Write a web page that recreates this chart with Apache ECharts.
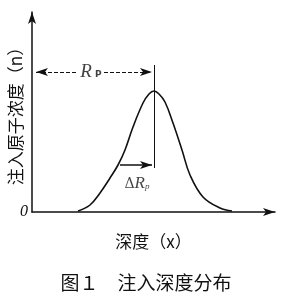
<!DOCTYPE html>
<html><head><meta charset="utf-8">
<script src="https://cdn.jsdelivr.net/npm/echarts@6/dist/echarts.min.js"></script>
<style>html,body{margin:0;padding:0;background:#fff}#c{width:292px;height:300px}</style>
</head><body><div id="c"></div>
<script>
// depth (arbitrary units) and concentration (arbitrary units)
const depth = [46, 58, 68, 78, 86, 93, 101, 111, 117, 122, 127, 133, 141, 150, 158, 171, 188, 200];
const conc  = [1, 7, 19, 34, 47, 62, 85, 109, 118, 121, 118, 110, 89, 62, 37, 15, 4, 1];
const Rp = 122;          // projected range (peak position)
const RpArrowY = 140;
const dRpStart = 88;     // Rp - ΔRp
const dRpArrowY = 47;
const yLabels = ['0'];

const curve = depth.map((d, i) => [d, conc[i]]);
const ink = '#111';
const chart = echarts.init(document.getElementById('c'), null, {renderer: 'canvas'});
chart.setOption({
  backgroundColor: '#fff',
  animation: false,
  title: {
    text: '图１　注入深度分布',
    left: 'center', top: 268,
    textStyle: {fontFamily: 'Noto Sans CJK SC', fontSize: 19, fontWeight: 'normal', color: ink}
  },
  grid: {left: 32, right: 17, top: 12, bottom: 88, containLabel: false, outerBoundsMode: 'none'},
  xAxis: {
    type: 'value', min: 0, max: 243,
    name: '深度（x）', nameLocation: 'middle', nameGap: 21, nameMoveOverlap: false,
    nameTextStyle: {fontFamily: 'Noto Sans CJK SC', fontSize: 17, color: ink},
    axisLine: {lineStyle: {color: ink, width: 1.5}, symbol: ['none', 'arrow'], symbolSize: [6, 12]},
    axisTick: {show: false}, axisLabel: {show: false}, splitLine: {show: false}
  },
  yAxis: {
    type: 'value', min: 0, max: 200, interval: 200,
    name: '注入原子浓度（n）', nameLocation: 'middle', nameGap: 8, nameMoveOverlap: false,
    nameTextStyle: {fontFamily: 'Noto Sans CJK SC', fontSize: 17, color: ink},
    axisLine: {show: true, lineStyle: {color: ink, width: 1.5}, symbol: ['none', 'arrow'], symbolSize: [6, 12]},
    axisTick: {show: false},
    axisLabel: {formatter: v => (v === 0 ? yLabels[0] : ''), fontFamily: 'Liberation Serif', fontStyle: 'italic', fontSize: 16, color: ink, margin: 4},
    splitLine: {show: false}
  },
  series: [
    {
      type: 'line', data: curve, smooth: 0.4, showSymbol: false,
      lineStyle: {color: ink, width: 1.6},
      markLine: {
        silent: true, symbol: 'none', label: {show: false},
        lineStyle: {color: ink, width: 1, type: 'solid'},
        data: [[{coord: [Rp, 44]}, {coord: [Rp, 147]}]]
      }
    },
    {
      type: 'line', data: [],
      markLine: {
        silent: true, symbol: ['arrow', 'arrow'], symbolSize: [6, 12], label: {show: false},
        lineStyle: {color: ink, width: 1, type: [4, 2]},
        data: [
          [{coord: [4, RpArrowY], symbol: 'arrow'}, {coord: [46, RpArrowY], symbol: 'none'}],
          [{coord: [72, RpArrowY], symbol: 'none'}, {coord: [Rp - 2, RpArrowY], symbol: 'arrow'}],
          [{coord: [dRpStart, dRpArrowY], symbol: 'none', lineStyle: {type: 'solid', width: 1.5}}, {coord: [Rp - 2, dRpArrowY], symbol: 'arrow'}]
        ]
      }
    },
    {
      type: 'scatter', symbolSize: 0, silent: true,
      data: [
        {value: [59, RpArrowY], label: {show: true, position: 'inside', formatter: '{r|R}{s| P}', rich: {
          r: {fontFamily: 'Liberation Serif', fontStyle: 'italic', fontSize: 19, color: ink},
          s: {fontFamily: 'DejaVu Sans', fontSize: 9, fontWeight: 'bold', color: ink, padding: [6, 0, 0, 0]}}}},
        {value: [105, 28], label: {show: true, position: 'inside', formatter: '{d|Δ}{r|R}{s|p}', rich: {
          d: {fontFamily: 'DejaVu Serif', fontSize: 14, color: ink},
          r: {fontFamily: 'Liberation Serif', fontStyle: 'italic', fontSize: 17, color: ink},
          s: {fontFamily: 'Liberation Serif', fontStyle: 'italic', fontSize: 9, color: ink, padding: [6, 0, 0, 0]}}}}
      ]
    }
  ]
});
</script></body></html>
